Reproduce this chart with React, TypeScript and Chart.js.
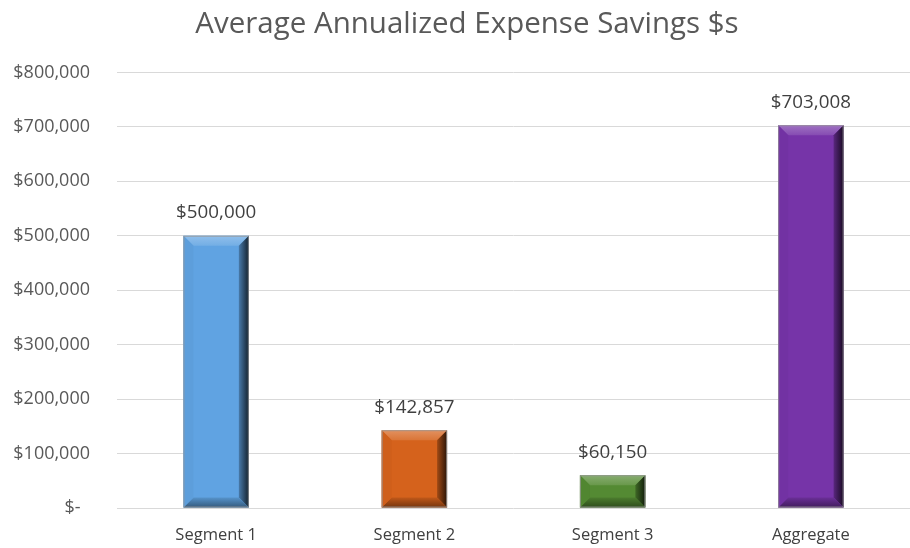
import React, { useEffect, useRef } from "react";
import { Chart, registerables } from "chart.js";

Chart.register(...registerables);

const categories = ["Segment 1", "Segment 2", "Segment 3", "Aggregate"];
const values = [500000, 142857, 60150, 703008];
const barColors = ["#60A3E2", "#D5621C", "#548A33", "#7634A8"];
const yTicks = [0, 100000, 200000, 300000, 400000, 500000, 600000, 700000, 800000];

const fmt = (v: number) => "$" + v.toLocaleString("en-US");
const FONT = "'Open Sans', Lato, sans-serif";

function shade(hex: string, amt: number) {
  const n = parseInt(hex.slice(1), 16);
  let r = (n >> 16) & 255, g = (n >> 8) & 255, b = n & 255;
  if (amt >= 0) {
    r = r + (255 - r) * amt; g = g + (255 - g) * amt; b = b + (255 - b) * amt;
  } else {
    r = r * (1 + amt); g = g * (1 + amt); b = b * (1 + amt);
  }
  return `rgb(${Math.round(r)},${Math.round(g)},${Math.round(b)})`;
}

const titleShiftPlugin = {
  id: "titleShift",
  afterLayout(chart: any) {
    const t = chart.titleBlock;
    if (t) t.left = 24;
  },
};

const bevelPlugin = {
  id: "bevel",
  afterDatasetsDraw(chart: any) {
    const ctx = chart.ctx;
    const meta = chart.getDatasetMeta(0);
    meta.data.forEach((bar: any, i: number) => {
      const { x, y, base, width } = bar.getProps(["x", "y", "base", "width"], true);
      const l = x - width / 2, r = x + width / 2, t = y, b = base;
      const c = barColors[i];
      const bv = Math.min(10, (b - t) / 3);
      ctx.save();
      const gt = ctx.createLinearGradient(0, t, 0, t + bv);
      gt.addColorStop(0, shade(c, 0.3));
      gt.addColorStop(1, shade(c, 0.12));
      ctx.fillStyle = gt;
      ctx.beginPath();
      ctx.moveTo(l, t); ctx.lineTo(r, t); ctx.lineTo(r - bv, t + bv); ctx.lineTo(l + bv, t + bv); ctx.closePath();
      ctx.fill();
      const gr = ctx.createLinearGradient(r - bv, 0, r, 0);
      gr.addColorStop(0, shade(c, -0.25));
      gr.addColorStop(1, shade(c, -0.8));
      ctx.fillStyle = gr;
      ctx.beginPath();
      ctx.moveTo(r, t); ctx.lineTo(r, b); ctx.lineTo(r - bv, b - bv); ctx.lineTo(r - bv, t + bv); ctx.closePath();
      ctx.fill();
      const gb = ctx.createLinearGradient(0, b - bv, 0, b);
      gb.addColorStop(0, shade(c, -0.1));
      gb.addColorStop(1, shade(c, -0.45));
      ctx.fillStyle = gb;
      ctx.beginPath();
      ctx.moveTo(l, b); ctx.lineTo(r, b); ctx.lineTo(r - bv, b - bv); ctx.lineTo(l + bv, b - bv); ctx.closePath();
      ctx.fill();
      ctx.fillStyle = shade(c, -0.03);
      ctx.beginPath();
      ctx.moveTo(l, t); ctx.lineTo(l + bv, t + bv); ctx.lineTo(l + bv, b - bv); ctx.lineTo(l, b); ctx.closePath();
      ctx.fill();
      ctx.strokeStyle = "rgba(150,150,150,0.8)";
      ctx.lineWidth = 1;
      ctx.strokeRect(l + 0.5, t + 0.5, width - 1, b - t - 1);
      ctx.restore();
    });
  },
};

const labelPlugin = {
  id: "valueLabels",
  afterDatasetsDraw(chart: any) {
    const ctx = chart.ctx;
    const meta = chart.getDatasetMeta(0);
    ctx.save();
    ctx.font = `18.8px ${FONT}`;
    ctx.fillStyle = "#404040";
    ctx.textAlign = "center";
    ctx.textBaseline = "middle";
    meta.data.forEach((bar: any, i: number) => {
      ctx.fillText(fmt(values[i]), bar.x, bar.y - 23);
    });
    ctx.restore();
  },
};

export default function App() {
  const ref = useRef<HTMLCanvasElement>(null);
  useEffect(() => {
    if (!ref.current) return;
    const chart = new Chart(ref.current, {
      type: "bar",
      data: {
        labels: categories,
        datasets: [
          {
            data: values,
            backgroundColor: barColors,
            barPercentage: 0.33,
            categoryPercentage: 1,
          },
        ],
      },
      options: {
        animation: false,
        responsive: false,
        layout: { padding: { left: 0, right: 0, top: 0, bottom: 0 } },
        plugins: {
          legend: { display: false },
          tooltip: { enabled: false },
          title: {
            display: true,
            text: "Average Annualized Expense Savings $s",
            color: "#595959",
            font: { family: FONT, size: 29.5, weight: "normal" },
            padding: { top: 7, bottom: 30 },
          },
        },
        scales: {
          x: {
            grid: { display: false, drawTicks: false },
            border: { display: false },
            ticks: { color: "#404040", font: { family: FONT, size: 16.5 }, padding: 17 },
            afterFit: (s: any) => { s.height = 40; },
          },
          y: {
            min: 0,
            max: 800000,
            afterBuildTicks: (s: any) => { s.ticks = yTicks.map((v) => ({ value: v })); },
            grid: { color: "#D9D9D9", drawTicks: false, lineWidth: 1 },
            border: { display: false },
            ticks: {
              color: "#595959",
              font: { family: FONT, size: 18 },
              padding: 27,
              callback: (v: any) => (Number(v) === 0 ? "$-  " : fmt(Number(v))),
            },
            afterFit: (s: any) => { s.width = 117; },
          },
        },
      },
      plugins: [titleShiftPlugin, bevelPlugin, labelPlugin],
    });
    return () => chart.destroy();
  }, []);
  return (
    <div style={{ position: "fixed", left: 0, top: 0, width: 910, height: 548, background: "#fff" }}>
      <canvas ref={ref} width={910} height={548} />
    </div>
  );
}
